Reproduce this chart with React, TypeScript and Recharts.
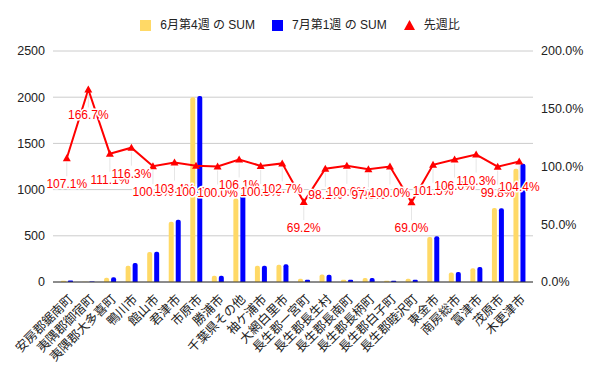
import { ComposedChart, Bar, Line, XAxis, YAxis, CartesianGrid, LabelList } from 'recharts'

const FONT = 'Liberation Sans, Arial, "Noto Sans CJK JP", sans-serif'

const cities = [
  '安房郡鋸南町', '夷隅郡御宿町', '夷隅郡大多喜町', '鴨川市', '館山市', '君津市', '市原市',
  '勝浦市', '千葉県その他', '袖ケ浦市', '大網白里市', '長生郡一宮町', '長生郡長生村',
  '長生郡長南町', '長生郡長柄町', '長生郡白子町', '長生郡睦沢町', '東金市', '南房総市',
  '富津市', '茂原市', '木更津市',
]
const june4 = [14, 3, 46, 176, 325, 652, 2000, 68, 905, 176, 187, 36, 80, 25, 44, 14, 36, 487, 102, 148, 800, 1226]
const july1 = [15, 5, 52, 205, 327, 674, 2012, 68, 960, 177, 192, 25, 78, 25, 43, 14, 25, 494, 108, 163, 798, 1280]
const ratio = [107.1, 166.7, 111.1, 116.3, 100.3, 103.4, 100.6, 100.0, 106.1, 100.5, 102.7, 69.2, 98.1, 100.6, 97.6, 100.0, 69.0, 101.5, 106.0, 110.3, 99.8, 104.4]

const leftTicks = [0, 500, 1000, 1500, 2000, 2500]
const rightTicks = [0, 50, 100, 150, 200]

const rows = cities.map((c, i) => ({ city: c, jun: june4[i], jul: july1[i], r: ratio[i] }))

// rotated category label, text ends just right of the tick
const XTick = ({ x, y, payload }: any) => {
  const px = x + 7
  const py = y + 10
  return (
    <text x={px} y={py} textAnchor="end" fontSize={12.5} fill="#222" fontFamily={FONT}
      transform={`rotate(-45, ${px}, ${py})`}>
      {payload.value}
    </text>
  )
}

const Tri = ({ cx, cy }: any) => {
  if (cx == null || cy == null) return null
  return <path d={`M${cx},${cy - 4} L${cx + 4},${cy + 3} L${cx - 4},${cy + 3} Z`} fill="#ff0000" />
}

const RLabel = ({ x, y, value }: any) => (
  <g>
    <line x1={x} y1={y + 4} x2={x} y2={y + 18} stroke="#e6e6e6" strokeWidth={1} />
    <text x={x} y={y + 30} textAnchor="middle" fontSize={12} fill="#ff0000" fontFamily={FONT}
      stroke="#fff" strokeWidth={3} paintOrder="stroke" strokeLinejoin="round">
      {`${Number(value).toFixed(1)}%`}
    </text>
  </g>
)

const legendItem = (mark: React.ReactNode, text: string) => (
  <div style={{ display: 'flex', alignItems: 'center', marginRight: 17 }}>
    {mark}
    <span style={{ marginLeft: 9 }}>{text}</span>
  </div>
)

export default function App() {
  return (
    <div style={{ position: 'absolute', left: 0, top: 0, width: 600, height: 371, background: '#fff', fontFamily: FONT }}>
      <div style={{
        position: 'absolute', top: 18, left: 0, width: 600, display: 'flex', justifyContent: 'center',
        fontSize: 12, color: '#222', lineHeight: '14px',
      }}>
        {legendItem(<div style={{ width: 11, height: 11, background: '#ffd966' }} />, '6月第4週 の SUM')}
        {legendItem(<div style={{ width: 11, height: 11, background: '#0000ff' }} />, '7月第1週 の SUM')}
        <div style={{ display: 'flex', alignItems: 'center' }}>
          <svg width={11} height={11}><path d="M5.5,0 L11,10 L0,10 Z" fill="#ff0000" /></svg>
          <span style={{ marginLeft: 9 }}>先週比</span>
        </div>
      </div>
      <ComposedChart width={600} height={371} data={rows} barSize={5} barGap={2}
        margin={{ top: 51, right: 0, bottom: 0, left: 0 }}>
        <CartesianGrid vertical={false} stroke="#cccccc" yAxisId="l" />
        <XAxis dataKey="city" interval={0} height={89} tick={<XTick />} tickLine={false}
          axisLine={{ stroke: '#333' }} padding={{ left: 3, right: 3 }} />
        <YAxis yAxisId="l" width={53} domain={[0, 2500]} ticks={leftTicks} axisLine={false} tickLine={false}
          tick={{ fill: '#222', fontSize: 12.5, fontFamily: FONT }} />
        <YAxis yAxisId="r" orientation="right" width={67} domain={[0, 200]} ticks={rightTicks}
          axisLine={false} tickLine={false} tickFormatter={v => `${v.toFixed(1)}%`}
          tick={{ fill: '#222', fontSize: 12.5, fontFamily: FONT, textAnchor: 'start' }} />
        <Bar yAxisId="l" dataKey="jun" fill="#ffd966" radius={[2, 2, 0, 0]} isAnimationActive={false} />
        <Bar yAxisId="l" dataKey="jul" fill="#0000ff" radius={[2, 2, 0, 0]} isAnimationActive={false} />
        <Line yAxisId="r" dataKey="r" stroke="#ff0000" strokeWidth={2} dot={<Tri />} activeDot={false}
          isAnimationActive={false}>
          <LabelList dataKey="r" content={<RLabel />} />
        </Line>
      </ComposedChart>
    </div>
  )
}
